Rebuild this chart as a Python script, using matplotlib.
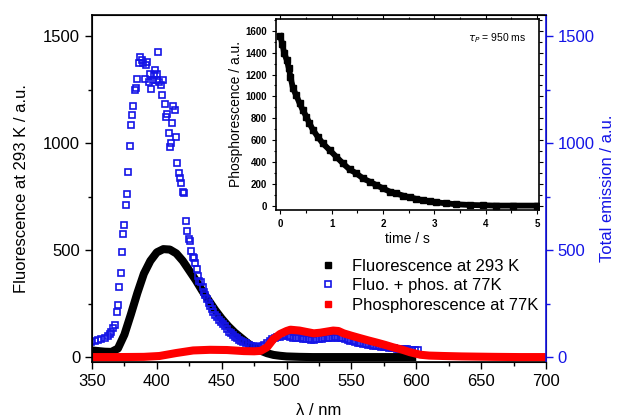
import matplotlib.pyplot as plt
from matplotlib.ticker import MultipleLocator

plt.rcParams['font.family'] = ['Liberation Sans', 'DejaVu Sans']

# Fluorescence at 293 K (black)
wl_fluo = [350, 355, 360, 365, 370, 375, 380, 385, 390, 395, 400, 405, 410, 415,
           420, 425, 430, 435, 440, 445, 450, 455, 460, 465, 470, 475, 480, 485,
           490, 495, 500, 510, 520, 540, 560, 580, 600]
fluo_293 = [31, 28, 25, 24, 40, 105, 200, 300, 390, 450, 490, 505, 503, 485,
            450, 405, 360, 310, 265, 220, 180, 145, 115, 90, 65, 45, 30, 18,
            10, 6, 3, 1, 0, 0, 0, 0, 0]

# Fluo. + phos. at 77 K (blue open squares)
wl_total = [349.5, 352, 354.6, 357, 359.7, 362, 364, 365, 366, 368, 369, 370, 371,
            372, 373, 374, 375, 376, 377, 378, 379.3, 380, 381, 381.4, 383, 384,
            385, 386, 387, 388.3, 389.6, 390.6, 391.4, 392.7, 393.7, 394.8, 395.8,
            396.8, 397.8, 398.8, 399.8, 400.4, 401, 401.9, 403, 404, 405, 406, 407,
            408, 409, 410, 410.7, 411.7, 412.7, 413.8, 414.8, 415.8, 416.8, 417.9,
            418.9, 419.9, 420.9, 422.5, 423.5, 424.6, 425.6, 426.6, 427.6, 428.7,
            429.7, 430.7, 431.7, 432.8, 434.3, 435.3, 436.4, 437.4, 438.4, 439.9,
            441, 442.5, 443.6, 445.1, 446.2, 447.7, 449.2, 450.8, 452.3, 453.9,
            455.4, 457, 458.5, 460, 461.6, 463.1, 464.7, 466.7, 468.8, 470.8,
            472.9, 474.9, 477, 479, 481, 483, 485, 487, 489, 491, 493, 495, 497,
            499, 501, 503, 505, 507, 509, 511, 513, 515, 517, 519, 521, 523, 525,
            527, 529, 531, 533, 535, 537, 539, 541, 543, 545, 547, 549, 551, 553,
            555, 557, 559, 561, 563, 565, 567, 569, 571, 573, 575, 577, 579, 581,
            583, 585, 587, 589, 591, 593, 595, 597, 599, 601]
total_77 = [70, 77, 80, 85, 88, 98, 108, 116, 135, 150, 209, 245, 330,
            392, 493, 574, 620, 710, 763, 864, 988, 1085, 1132, 1174, 1248, 1260,
            1302, 1374, 1405, 1390, 1377, 1299, 1364, 1380, 1287, 1326, 1256,
            1295, 1318, 1341, 1322, 1295, 1426, 1287, 1271, 1225, 1295, 1183, 1121,
            1136, 1046, 985, 1003, 1093, 1174, 1155, 1031, 910, 860, 837,
            814, 771, 767, 636, 589, 553, 543, 496, 470, 465,
            442, 414, 380, 357, 352, 326, 305, 290, 271, 253,
            240, 225, 212, 197, 186, 175, 166, 155, 144, 132,
            119, 113, 104, 96, 88, 82, 76, 70, 64, 57,
            54, 50, 47, 48, 50, 55, 65, 75, 83, 88, 92, 95, 100,
            104, 100, 93, 90, 89, 88, 87, 86, 84, 83, 82, 82, 83, 84,
            86, 88, 89, 90, 91, 92, 91, 89, 87, 84, 80, 77, 74, 71,
            68, 66, 63, 60, 57, 55, 53, 51, 50, 48, 47, 45, 44, 42,
            41, 40, 39, 38, 37, 36, 35, 34, 33, 31]

# Phosphorescence at 77 K (red)
wl_phos = [350, 370, 390, 402, 415, 428, 441, 454, 467, 475, 480, 485, 490, 495,
           500, 503, 510, 515, 521, 526, 531, 536, 540, 544, 550, 557, 563, 570,
           576, 582, 589, 595, 603, 610, 621, 635, 647, 660, 680, 700]
phos_77 = [0, 0, 1, 5, 19, 31, 34, 33, 28, 27, 29, 46, 85, 108,
           122, 128, 124, 118, 111, 114, 119, 124, 122, 111, 100, 88, 78, 67,
           57, 46, 35, 23, 11, 7, 5, 3, 2, 1, 0, 0]

# Inset: phosphorescence decay
t_decay = [0, 0.04, 0.08, 0.13, 0.17, 0.2, 0.25, 0.31, 0.38, 0.44, 0.51, 0.57,
           0.64, 0.73, 0.83, 0.96, 1.09, 1.22, 1.35, 1.48, 1.61, 1.74, 1.87, 2.0,
           2.13, 2.26, 2.39, 2.52, 2.65, 2.78, 2.91, 3.04, 3.23, 3.43, 3.69, 3.95,
           4.2, 4.53, 4.99]
phos_decay = [1550, 1483, 1392, 1331, 1255, 1179, 1073, 1012, 936, 875, 815, 754,
              693, 632, 571, 511, 450, 389, 334, 298, 252, 222, 191, 161,
              131, 115, 94, 79, 64, 52, 43, 33, 24, 15, 9, 6,
              3, 3, 3]

blue = '#1414e6'
red = '#ff0000'

fig = plt.figure(figsize=(6.19, 4.18), dpi=100)
ax = fig.add_axes([0.1486, 0.134, 0.7334, 0.830])
ax2 = ax.twinx()

ax.plot(wl_fluo, fluo_293, color='black', lw=5.8, solid_capstyle='butt', zorder=2)
ax.plot(wl_total, total_77, 's', mfc='none', mec=blue, ms=4.2, mew=1.2, zorder=3)
ax.plot(wl_phos, phos_77, color=red, lw=5.8, solid_capstyle='butt', zorder=4)

ax.set_xlim(350, 700)
ax.set_ylim(-23, 1600)
ax2.set_ylim(-23, 1600)
ax.xaxis.set_major_locator(MultipleLocator(50))
ax.xaxis.set_minor_locator(MultipleLocator(25))
ax.yaxis.set_major_locator(MultipleLocator(500))
ax.yaxis.set_minor_locator(MultipleLocator(250))
ax2.yaxis.set_major_locator(MultipleLocator(500))
ax2.yaxis.set_minor_locator(MultipleLocator(250))

ax.tick_params(which='both', direction='out', labelsize=12, top=False, right=False)
ax.tick_params(which='major', length=5, width=1)
ax.tick_params(which='minor', length=3, width=1)
ax2.tick_params(which='both', direction='out', colors=blue, labelsize=12)
ax2.tick_params(which='major', length=5, width=1)
ax2.tick_params(which='minor', length=3, width=1)
ax2.spines['right'].set_color(blue)
ax2.spines['right'].set_linewidth(1.2)
for s in ['left', 'bottom', 'top']:
    ax.spines[s].set_linewidth(1.2)

ax.set_ylabel('Fluorescence at 293 K / a.u.', fontsize=12, labelpad=10)
ax2.set_ylabel('Total emission / a.u.', fontsize=12, color=blue, labelpad=4)
ax.set_xlabel('λ / nm', fontsize=12)
ax.xaxis.set_label_coords(0.5, -0.118)

h1, = ax.plot([], [], 's', color='black', ms=4.5)
h2, = ax.plot([], [], 's', mfc='none', mec=blue, ms=4.2, mew=1.2)
h3, = ax.plot([], [], 's', color=red, ms=4.5)
ax.legend([h1, h2, h3], ['Fluorescence at 293 K', 'Fluo. + phos. at 77K',
                         'Phosphorescence at 77K'],
          loc='upper left', bbox_to_anchor=(0.484, 0.322), frameon=False,
          fontsize=12, handlelength=1.0, handletextpad=0.9, labelspacing=0.28,
          borderpad=0)

# inset
axi = fig.add_axes([0.446, 0.4976, 0.425, 0.457])
axi.plot(t_decay, phos_decay, 's-', color='black', ms=4.5, lw=4.2)
axi.set_xlim(-0.08, 5.04)
axi.set_ylim(-37, 1707)
axi.xaxis.set_major_locator(MultipleLocator(1))
axi.xaxis.set_minor_locator(MultipleLocator(0.5))
axi.yaxis.set_major_locator(MultipleLocator(200))
axi.yaxis.set_minor_locator(MultipleLocator(100))
axi.tick_params(which='both', direction='out', labelsize=7, top=True, right=True)
axi.tick_params(which='major', length=3, width=0.8)
axi.tick_params(which='minor', length=1.8, width=0.8)
for lab in axi.get_xticklabels() + axi.get_yticklabels():
    lab.set_fontweight('bold')
for s in axi.spines.values():
    s.set_linewidth(1.2)
axi.set_xlabel('time / s', fontsize=10, labelpad=2)
axi.set_ylabel('Phosphorescence / a.u.', fontsize=10, labelpad=2)
axi.text(0.95, 0.9, r'$\tau_P$ = 950 ms', transform=axi.transAxes,
         ha='right', va='center', fontsize=7.5)

fig.savefig('out.png', dpi=100)
